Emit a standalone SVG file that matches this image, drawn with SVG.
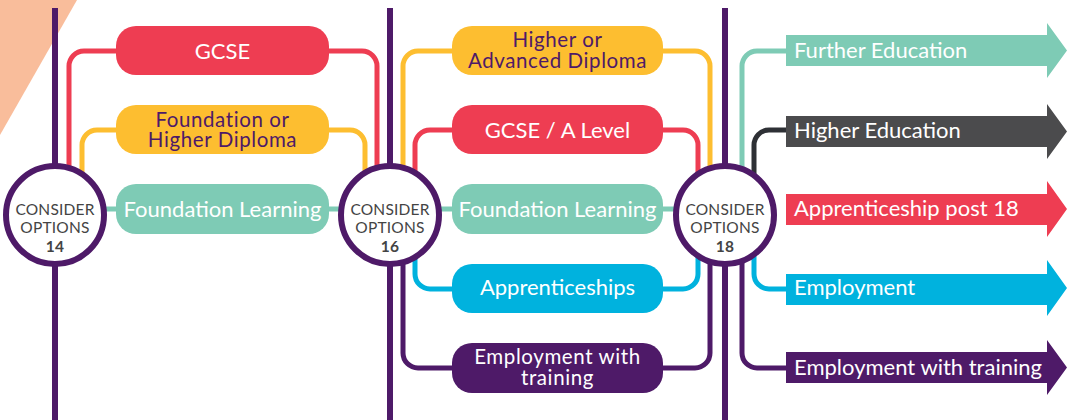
<svg xmlns="http://www.w3.org/2000/svg" width="1070" height="420" viewBox="0 0 1070 420">
<style>
.t{font-family:Lato,"Open Sans",sans-serif;font-size:22px;text-anchor:middle}
.t2{font-family:Lato,"Open Sans",sans-serif;font-size:20.5px;letter-spacing:0.6px;text-anchor:middle}
.w{fill:#fff}
.p{fill:#4E1A68}
.at{font-family:Lato,"Open Sans",sans-serif;font-size:22px;fill:#fff}
.ct{font-family:Lato,"Open Sans",sans-serif;font-size:15.5px;letter-spacing:0.2px;fill:#444;text-anchor:middle}
.cn{font-weight:bold}
.c{fill:none;stroke-width:5}
.vl{stroke:#4E1A68;stroke-width:6}
.circ{fill:#fff;stroke:#4E1A68;stroke-width:6}
</style>
<polygon points="0,0 77,0 0,135" fill="#F9BD9B"/>
<g id="timelines">
<line class="vl" x1="55" y1="8" x2="55" y2="420"/>
<line class="vl" x1="390" y1="8" x2="390" y2="420"/>
<line class="vl" x1="725" y1="8" x2="725" y2="420"/>
</g>
<g id="connectors">
<path class="c" stroke="#7ECBB5" d="M55,209 H390 M390,209 H725"/>
<path class="c" stroke="#EE3D52" d="M69,215 V66 A15,15 0 0 1 84,51 H116"/>
<path class="c" stroke="#FDBE30" d="M82,215 V145 A15,15 0 0 1 97,130 H116"/>
<path class="c" stroke="#EE3D52" d="M329,51 H362 A15,15 0 0 1 377,66 V215"/>
<path class="c" stroke="#FDBE30" d="M329,130 H350 A15,15 0 0 1 365,145 V215"/>
<path class="c" stroke="#FDBE30" d="M403,215 V66 A15,15 0 0 1 418,51 H452"/>
<path class="c" stroke="#EE3D52" d="M415,215 V145 A15,15 0 0 1 430,130 H452"/>
<path class="c" stroke="#00B2DE" d="M415,215 V274 A15,15 0 0 0 430,289 H452"/>
<path class="c" stroke="#4E1A68" d="M403,215 V353 A15,15 0 0 0 418,368 H452"/>
<path class="c" stroke="#FDBE30" d="M663,51 H695 A15,15 0 0 1 710,66 V215"/>
<path class="c" stroke="#EE3D52" d="M663,130 H683 A15,15 0 0 1 698,145 V215"/>
<path class="c" stroke="#00B2DE" d="M663,289 H683 A15,15 0 0 0 698,274 V215"/>
<path class="c" stroke="#4E1A68" d="M663,368 H695 A15,15 0 0 0 710,353 V215"/>
<path class="c" stroke="#7ECBB5" d="M742,215 V66 A15,15 0 0 1 757,51 H790"/>
<path class="c" stroke="#2E3035" d="M754,215 V145 A15,15 0 0 1 769,130 H790"/>
<path class="c" stroke="#00B2DE" d="M754,215 V274 A15,15 0 0 0 769,289 H790"/>
<path class="c" stroke="#4E1A68" d="M742,215 V353 A15,15 0 0 0 757,368 H790"/>
</g>
<g id="options14">
<circle class="circ" cx="55" cy="215" r="49"/>
<text class="ct" x="55" y="215">CONSIDER</text>
<text class="ct" x="55" y="233">OPTIONS</text>
<text class="ct cn" x="55" y="252">14</text>
</g>
<g id="options16">
<circle class="circ" cx="390" cy="215" r="49"/>
<text class="ct" x="390" y="215">CONSIDER</text>
<text class="ct" x="390" y="233">OPTIONS</text>
<text class="ct cn" x="390" y="252">16</text>
</g>
<g id="options18">
<circle class="circ" cx="725" cy="215" r="49"/>
<text class="ct" x="725" y="215">CONSIDER</text>
<text class="ct" x="725" y="233">OPTIONS</text>
<text class="ct cn" x="725" y="252">18</text>
</g>
<g id="gcse">
<rect x="116" y="26" width="213" height="49" rx="20" fill="#EE3D52"/>
<text class="t w" x="222.5" y="59">GCSE</text>
</g>
<g id="foundation-diploma">
<rect x="116" y="105" width="213" height="49" rx="20" fill="#FDBE30"/>
<text class="t2 p" x="222.5" y="127">Foundation or</text>
<text class="t2 p" x="222.5" y="147">Higher Diploma</text>
</g>
<g id="foundation-learning-1">
<rect x="116" y="184" width="213" height="50" rx="20" fill="#7ECBB5"/>
<text class="t w" x="222.5" y="217">Foundation Learning</text>
</g>
<g id="higher-diploma">
<rect x="452" y="26" width="211" height="49" rx="20" fill="#FDBE30"/>
<text class="t2 p" x="557.5" y="47">Higher or</text>
<text class="t2 p" x="557.5" y="68">Advanced Diploma</text>
</g>
<g id="gcse-alevel">
<rect x="452" y="105" width="211" height="49" rx="20" fill="#EE3D52"/>
<text class="t w" x="557.5" y="138">GCSE / A Level</text>
</g>
<g id="foundation-learning-2">
<rect x="452" y="184" width="211" height="50" rx="20" fill="#7ECBB5"/>
<text class="t w" x="557.5" y="217">Foundation Learning</text>
</g>
<g id="apprenticeships">
<rect x="452" y="264" width="211" height="49" rx="20" fill="#00B2DE"/>
<text class="t w" x="557.5" y="295">Apprenticeships</text>
</g>
<g id="employment-training-1">
<rect x="452" y="343" width="211" height="50" rx="20" fill="#4E1A68"/>
<text class="t2 w" x="557.5" y="364">Employment with</text>
<text class="t2 w" x="557.5" y="385">training</text>
</g>
<g id="further-education">
<polygon points="786,35 1047,35 1047,23 1067,50.5 1047,78 1047,66 786,66" fill="#7ECBB5"/>
<text class="at" x="794" y="58">Further Education</text>
</g>
<g id="higher-education">
<polygon points="786,116 1047,116 1047,104 1067,131.5 1047,159 1047,147 786,147" fill="#4B4B4D"/>
<text class="at" x="794" y="138">Higher Education</text>
</g>
<g id="apprenticeship-18">
<polygon points="786,194 1047,194 1047,181 1067,209 1047,237 1047,225 786,225" fill="#EE3D52"/>
<text class="at" x="794" y="216">Apprenticeship post 18</text>
</g>
<g id="employment">
<polygon points="786,274 1047,274 1047,260 1067,288 1047,316 1047,305 786,305" fill="#00B2DE"/>
<text class="at" x="794" y="295">Employment</text>
</g>
<g id="employment-training-2">
<polygon points="786,352 1047,352 1047,340 1067,367.5 1047,395 1047,383 786,383" fill="#4E1A68"/>
<text class="at" x="794" y="375">Employment with training</text>
</g>
</svg>
